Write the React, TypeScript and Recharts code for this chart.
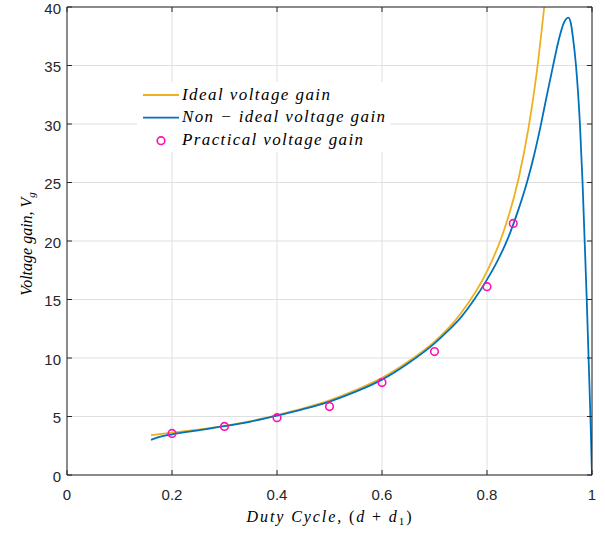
import React from 'react';
import { ComposedChart, Line, Scatter, XAxis, YAxis, CartesianGrid, Legend } from 'recharts';

// duty cycle (d + d1) vs voltage gain
const IDEAL_D = [0.16, 0.2, 0.25, 0.3, 0.35, 0.4, 0.45, 0.5, 0.55, 0.6, 0.65, 0.7, 0.75, 0.8, 0.83, 0.86, 0.88, 0.895, 0.909];
const IDEAL_V = [3.4, 3.62, 3.88, 4.2, 4.6, 5.12, 5.7, 6.38, 7.25, 8.3, 9.7, 11.4, 13.8, 17.4, 20.6, 25.3, 29.9, 34.5, 40];

const NONIDEAL_D = [0.16, 0.18, 0.2, 0.25, 0.3, 0.35, 0.4, 0.45, 0.5, 0.55, 0.6, 0.65, 0.7, 0.725, 0.75, 0.775, 0.8, 0.82, 0.84, 0.86, 0.877, 0.89, 0.902, 0.914, 0.925, 0.937, 0.946, 0.955, 0.96, 0.964, 0.9695, 0.977, 0.982, 0.986, 0.99, 0.9935, 0.997, 1.0];
const NONIDEAL_V = [3.0, 3.3, 3.48, 3.82, 4.17, 4.57, 5.07, 5.63, 6.28, 7.12, 8.15, 9.55, 11.25, 12.3, 13.45, 14.95, 16.7, 18.3, 20.25, 22.7, 25.15, 27.4, 29.8, 32.45, 34.8, 37.25, 38.6, 39.1, 38.55, 37.3, 35.0, 30.0, 25.0, 20.0, 15.0, 10.0, 5.0, 0];

const PRACT_D = [0.2, 0.3, 0.4, 0.5, 0.6, 0.7, 0.8, 0.85];
const PRACT_V = [3.55, 4.15, 4.9, 5.85, 7.9, 10.55, 16.1, 21.5];

const X_TICKS = [0, 0.2, 0.4, 0.6, 0.8, 1];
const Y_TICKS = [0, 5, 10, 15, 20, 25, 30, 35, 40];

const ideal = IDEAL_D.map((d, i) => ({ d, v: IDEAL_V[i] }));
const nonIdeal = NONIDEAL_D.map((d, i) => ({ d, v: NONIDEAL_V[i] }));
const practical = PRACT_D.map((d, i) => ({ d, v: PRACT_V[i] }));

const AX = '#262626';
const SANS = '"Liberation Sans", Arial, sans-serif';
const SERIF = '"Liberation Serif", "Times New Roman", serif';
const ORANGE = '#EDB120';
const BLUE = '#0072BD';
const MAGENTA = '#FF10B0';
const M = 8; // tickMargin used to recover the axis position

const LeftTick = ({ x, y, payload }: any) => {
  const ax = x + M;
  return (
    <g>
      <line x1={ax} x2={ax + 5} y1={y} y2={y} stroke={AX} />
      <text x={ax - 6} y={y} dy={6.5} textAnchor="end" fill={AX} fontSize={15} fontFamily={SANS}>
        {payload.value}
      </text>
    </g>
  );
};

const RightTick = ({ x, y }: any) => {
  const ax = x - M;
  return <line x1={ax - 5} x2={ax} y1={y} y2={y} stroke={AX} />;
};

const BottomTick = ({ x, y, payload }: any) => {
  const ay = y - M;
  return (
    <g>
      <line x1={x} x2={x} y1={ay - 5} y2={ay} stroke={AX} />
      <text x={x} y={ay + 25} textAnchor="middle" fill={AX} fontSize={15} fontFamily={SANS}>
        {payload.value}
      </text>
    </g>
  );
};

const TopTick = ({ x, y }: any) => {
  const ay = y + M;
  return <line x1={x} x2={x} y1={ay} y2={ay + 5} stroke={AX} />;
};

const Ring = ({ cx, cy }: any) => (
  <circle cx={cx} cy={cy} r={3.8} fill="none" stroke={MAGENTA} strokeWidth={1.6} />
);

const LegendBox = () => (
  <svg width={253} height={70} style={{ display: 'block', background: '#fff' }}>
    <line x1={6} x2={42} y1={13} y2={13} stroke={ORANGE} strokeWidth={1.8} />
    <line x1={6} x2={42} y1={35.7} y2={35.7} stroke={BLUE} strokeWidth={1.8} />
    <circle cx={24} cy={58.7} r={3.8} fill="none" stroke={MAGENTA} strokeWidth={1.6} />
    <g fontFamily={SERIF} fontStyle="italic" fontSize={17} fill="#000">
      <text x={45} y={17.5} textLength={148} lengthAdjust="spacing">Ideal voltage gain</text>
      <text x={45} y={40} textLength={203} lengthAdjust="spacing">Non − ideal voltage gain</text>
      <text x={45} y={62.5} textLength={181} lengthAdjust="spacing">Practical voltage gain</text>
    </g>
  </svg>
);

const XTitle = () => (
  <text x={329} y={522} textAnchor="middle" fontFamily={SERIF} fontSize={16} fill="#000" textLength={165} lengthAdjust="spacing">
    <tspan fontStyle="italic">Duty Cycle,</tspan>
    <tspan> (</tspan>
    <tspan fontStyle="italic">d</tspan>
    <tspan> + </tspan>
    <tspan fontStyle="italic">d</tspan>
    <tspan fontSize={11} dy={3}>1</tspan>
    <tspan dy={-3}>)</tspan>
  </text>
);

const YTitle = () => (
  <text x={32} y={244} transform="rotate(-90, 32, 244)" textAnchor="middle" fontFamily={SERIF} fontStyle="italic" fontSize={16} fill="#000">
    <tspan>Voltage gain, V</tspan>
    <tspan fontSize={11} dy={3}>g</tspan>
  </text>
);

export default function App() {
  return (
    <div style={{ position: 'absolute', left: 0, top: 0, width: 605, height: 533, background: '#fff' }}>
      <ComposedChart width={605} height={533} margin={{ top: 0, right: 0, bottom: 0, left: 0 }}>
        <CartesianGrid stroke="#dfdfdf" strokeWidth={1} />
        <XAxis
          type="number"
          dataKey="d"
          domain={[0, 1]}
          ticks={X_TICKS}
          interval={0}
          allowDataOverflow
          height={58}
          stroke={AX}
          tickLine={false}
          tickSize={0}
          tickMargin={M}
          tick={<BottomTick />}
          label={{ content: () => <XTitle /> }}
        />
        <XAxis
          xAxisId="t"
          orientation="top"
          type="number"
          dataKey="d"
          domain={[0, 1]}
          ticks={X_TICKS}
          interval={0}
          allowDataOverflow
          height={7}
          stroke={AX}
          tickLine={false}
          tickSize={0}
          tickMargin={M}
          tick={<TopTick />}
        />
        <YAxis
          type="number"
          domain={[0, 40]}
          ticks={Y_TICKS}
          interval={0}
          allowDataOverflow
          width={67}
          stroke={AX}
          tickLine={false}
          tickSize={0}
          tickMargin={M}
          tick={<LeftTick />}
          label={{ content: () => <YTitle /> }}
        />
        <YAxis
          yAxisId="r"
          orientation="right"
          type="number"
          domain={[0, 40]}
          ticks={Y_TICKS}
          interval={0}
          allowDataOverflow
          width={13}
          stroke={AX}
          tickLine={false}
          tickSize={0}
          tickMargin={M}
          tick={<RightTick />}
        />
        <Legend
          layout="vertical"
          align="center"
          verticalAlign="middle"
          content={() => <LegendBox />}
          wrapperStyle={{ left: 137, top: 82, width: 253, height: 70 }}
        />
        <Line data={ideal} dataKey="v" type="monotone" stroke={ORANGE} strokeWidth={1.8} dot={false} isAnimationActive={false} />
        <Line data={nonIdeal} dataKey="v" type="monotone" stroke={BLUE} strokeWidth={1.8} dot={false} isAnimationActive={false} />
        <Scatter data={practical} dataKey="v" shape={<Ring />} isAnimationActive={false} />
      </ComposedChart>
    </div>
  );
}
